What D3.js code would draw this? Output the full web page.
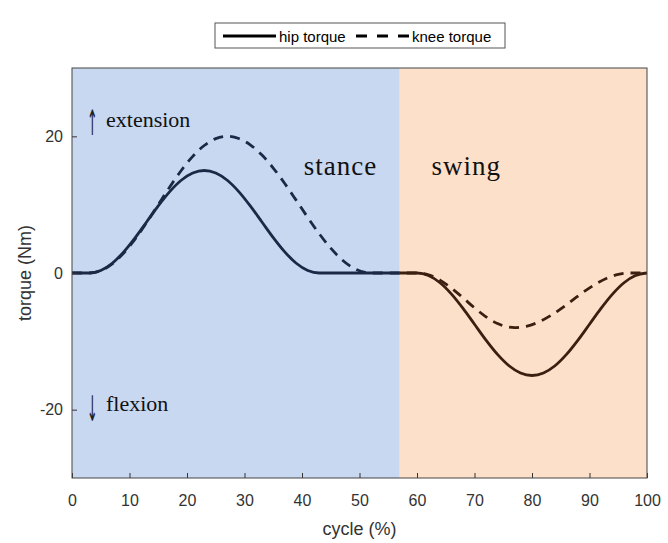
<!DOCTYPE html>
<html>
<head>
<meta charset="utf-8">
<style>
body { margin: 0; background: #fff; }
.tick text { font-family: "Liberation Sans", Arial, sans-serif; font-size: 16px; fill: #333; }
.tick line { stroke: #333; }
.serif { font-family: "Liberation Serif", "Times New Roman", serif; fill: #111; }
.arrow { font-family: "DejaVu Sans", sans-serif; fill: #222; }
</style>
<title>hip and knee torque</title>
</head>
<body>
<svg width="668" height="543"></svg>
<script src="https://d3js.org/d3.v7.min.js"></script>
<script>
// data (cycle %, torque Nm)
var hipCycle = [0, 3, 5, 7, 9, 11, 13, 15, 17, 19, 21, 23, 25, 27, 29, 31, 33, 35, 37, 39, 41, 43,
                60, 62, 64, 66, 68, 70, 72, 74, 76, 78, 80, 82, 84, 86, 88, 90, 92, 94, 96, 98, 100];
var hipTorque = [0, 0, 0.37, 1.43, 3.09, 5.18, 7.5, 9.82, 11.91, 13.57, 14.63, 15, 14.63, 13.57, 11.91, 9.82, 7.5, 5.18, 3.09, 1.43, 0.37, 0,
                 0, -0.37, -1.43, -3.09, -5.18, -7.5, -9.82, -11.91, -13.57, -14.63, -15, -14.63, -13.57, -11.91, -9.82, -7.5, -5.18, -3.09, -1.43, -0.37, 0];

var kneeCycle = [0, 3, 5, 7, 9, 11, 13, 15, 17, 19, 21, 23, 25, 27, 29, 31, 33, 35, 37, 39, 41, 43, 45, 47, 49, 51, 52,
                 60, 62, 64, 66, 68, 70, 72, 74, 76, 77, 79, 81, 83, 85, 87, 89, 91, 93, 95, 97, 100];
var kneeTorque = [0, 0, 0.34, 1.34, 2.93, 5, 7.41, 10, 12.59, 15, 17.07, 18.66, 19.66, 20, 19.69, 18.76, 17.29, 15.36, 13.09, 10.63, 8.13, 5.74, 3.63, 1.91, 0.7, 0.08, 0,
                  0, -0.27, -1.04, -2.22, -3.63, -5.1, -6.41, -7.4, -7.93, -8, -7.8, -7.24, -6.35, -5.24, -4, -2.76, -1.65, -0.76, -0.2, 0, 0];

var phases = ["stance", "swing"];
var phaseBounds = [[0, 57], [57, 100]];
var phaseFill = ["#c8d8f1", "#fde0c9"];
var phaseLine = ["#1b2947", "#3b1f10"];

var xTicks = [0, 10, 20, 30, 40, 50, 60, 70, 80, 90, 100];
var yTicks = [-20, 0, 20];

var svg = d3.select("svg");
var margin = {left: 72, right: 21, top: 68, bottom: 65};
var width = 668 - margin.left - margin.right,
    height = 543 - margin.top - margin.bottom;

var x = d3.scaleLinear().domain([0, 100]).range([0, width]);
var y = d3.scaleLinear().domain([-30, 30]).range([height, 0]);

var g = svg.append("g").attr("transform", "translate(" + margin.left + "," + margin.top + ")");

// phase backgrounds
g.selectAll("rect.phase")
  .data(phaseBounds)
  .enter().append("rect")
    .attr("class", "phase")
    .attr("x", function(d) { return x(d[0]); })
    .attr("width", function(d) { return x(d[1]) - x(d[0]); })
    .attr("y", 0)
    .attr("height", height)
    .attr("fill", function(d, i) { return phaseFill[i]; });

// clip paths per phase so the line colour changes with the background
var defs = svg.append("defs");
phaseBounds.forEach(function(d, i) {
  defs.append("clipPath").attr("id", "clip" + i)
    .append("rect")
      .attr("x", x(d[0]))
      .attr("width", x(d[1]) - x(d[0]))
      .attr("y", -5)
      .attr("height", height + 10);
});

var hip = hipCycle.map(function(c, i) { return [c, hipTorque[i]]; });
var knee = kneeCycle.map(function(c, i) { return [c, kneeTorque[i]]; });

var line = d3.line()
  .x(function(d) { return x(d[0]); })
  .y(function(d) { return y(d[1]); })
  .curve(d3.curveMonotoneX);

phaseBounds.forEach(function(d, i) {
  var lg = g.append("g").attr("clip-path", "url(#clip" + i + ")");
  lg.append("path")
    .attr("d", line(knee))
    .attr("fill", "none")
    .attr("stroke", phaseLine[i])
    .attr("stroke-width", 2.8)
    .attr("stroke-dasharray", "10,7");
  lg.append("path")
    .attr("d", line(hip))
    .attr("fill", "none")
    .attr("stroke", phaseLine[i])
    .attr("stroke-width", 2.8);
});

// axes
var fmt = function(d) { return String(d); };   // plain hyphen for negatives
g.append("g")
  .attr("transform", "translate(0," + height + ")")
  .call(d3.axisBottom(x).tickValues(xTicks).tickSize(-5).tickPadding(17).tickFormat(fmt))
  .call(function(s) { s.select(".domain").remove(); });

g.append("g")
  .call(d3.axisLeft(y).tickValues(yTicks).tickSize(-5).tickPadding(9).tickFormat(fmt))
  .call(function(s) { s.select(".domain").remove(); });

// box
g.append("rect")
  .attr("width", width).attr("height", height)
  .attr("fill", "none")
  .attr("stroke", "#444")
  .attr("stroke-width", 1);

// axis labels
svg.append("text")
  .attr("x", margin.left + width / 2)
  .attr("y", 535)
  .attr("text-anchor", "middle")
  .style("font-family", "Liberation Sans, Arial, sans-serif")
  .style("font-size", "18px")
  .attr("fill", "#333")
  .text("cycle (%)");

svg.append("text")
  .attr("transform", "translate(31," + (margin.top + y(0)) + ") rotate(-90)")
  .attr("text-anchor", "middle")
  .style("font-family", "Liberation Sans, Arial, sans-serif")
  .style("font-size", "18px")
  .attr("fill", "#333")
  .text("torque (Nm)");

// annotations: stretched arrow glyph + word
var notes = [
  {arrow: "\u2191", word: "extension", base: 127, arrowBase: 135},
  {arrow: "\u2193", word: "flexion", base: 411, arrowBase: 421}
];
notes.forEach(function(n) {
  svg.append("text").attr("class", "arrow")
    .attr("transform", "translate(87," + n.arrowBase + ") scale(0.8,2.2)")
    .style("font-size", "16px")
    .text(n.arrow);
  svg.append("text").attr("class", "serif")
    .attr("x", 106).attr("y", n.base)
    .style("font-size", "22px")
    .text(n.word);
});

g.selectAll("text.phase-label")
  .data(phases)
  .enter().append("text")
    .attr("class", "serif phase-label")
    .attr("x", function(d, i) { return i === 0 ? x(40.3) : x(62.5); })
    .attr("y", 175 - margin.top)
    .style("font-size", "27px")
    .style("letter-spacing", "1px")
    .text(function(d) { return d; });

// legend
var legendNames = ["hip torque", "knee torque"];
var lgd = svg.append("g").attr("transform", "translate(215,23)");
lgd.append("rect")
  .attr("width", 290).attr("height", 25)
  .attr("fill", "#fff").attr("stroke", "#555");
var legendX = [8, 141];
legendNames.forEach(function(name, i) {
  lgd.append("line")
    .attr("x1", legendX[i]).attr("x2", legendX[i] + 53)
    .attr("y1", 13).attr("y2", 13)
    .attr("stroke", "#000").attr("stroke-width", 3)
    .attr("stroke-dasharray", i === 1 ? "11,10" : null);
  lgd.append("text")
    .attr("x", legendX[i] + 56).attr("y", 19)
    .style("font-family", "Liberation Sans, Arial, sans-serif")
    .style("font-size", "15px")
    .attr("fill", "#000")
    .text(name);
});
</script>
</body>
</html>
